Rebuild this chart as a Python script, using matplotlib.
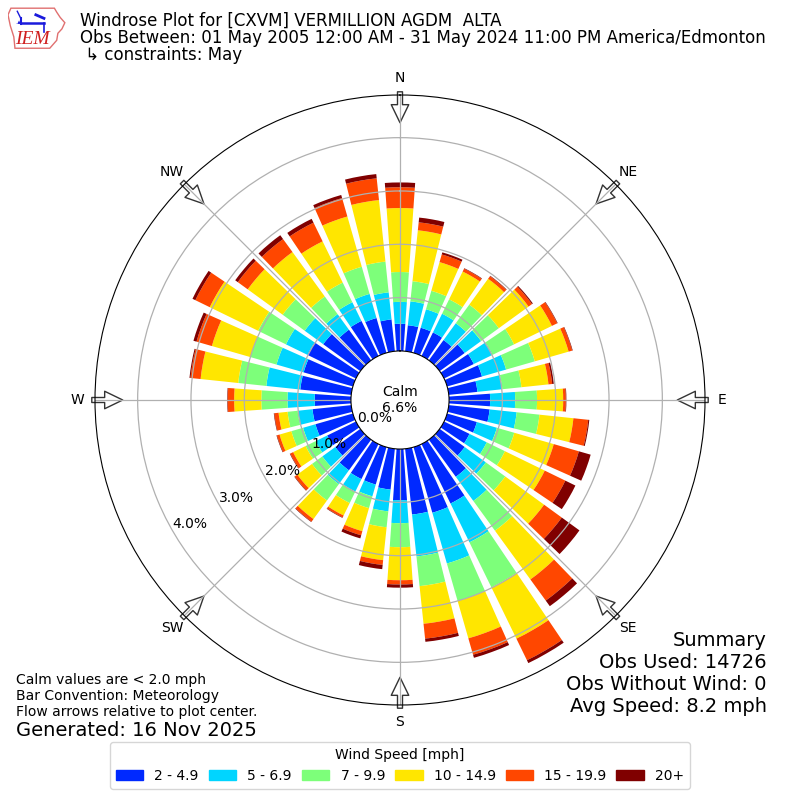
import numpy as np
import matplotlib
matplotlib.use("Agg")
import matplotlib.pyplot as plt
from matplotlib.patches import Rectangle, Polygon
from matplotlib.lines import Line2D

# ---------------- data (percent of observations) ----------------
directions = np.arange(0, 360, 10)
speed_bins = ["2 - 4.9", "5 - 6.9", "7 - 9.9", "10 - 14.9", "15 - 19.9", "20+"]

spd_2_5 = [0.51, 0.49, 0.49, 0.49, 0.47, 0.58, 0.62, 0.68, 0.54, 0.77, 0.77, 0.58,
           0.53, 0.58, 0.86, 1.24, 1.28, 1.24, 0.96, 0.77, 0.73, 0.73, 0.71, 0.58,
           0.60, 0.73, 0.73, 0.68, 0.96, 0.96, 1.01, 0.86, 0.71, 0.73, 0.68, 0.60]
spd_5_7 = [0.41, 0.45, 0.36, 0.39, 0.39, 0.38, 0.39, 0.47, 0.47, 0.47, 0.51, 0.39,
           0.36, 0.49, 0.56, 0.81, 0.99, 0.79, 0.43, 0.41, 0.23, 0.26, 0.32, 0.30,
           0.24, 0.24, 0.28, 0.51, 0.64, 0.53, 0.45, 0.43, 0.36, 0.39, 0.47, 0.51]
spd_7_10 = [0.56, 0.38, 0.36, 0.30, 0.43, 0.41, 0.45, 0.56, 0.36, 0.41, 0.43, 0.34,
            0.38, 0.45, 0.69, 0.94, 0.73, 0.56, 0.45, 0.30, 0.23, 0.24, 0.38, 0.24,
            0.21, 0.23, 0.19, 0.49, 0.53, 0.51, 0.58, 0.51, 0.41, 0.41, 0.53, 0.58]
spd_10_15 = [1.20, 0.96, 0.56, 0.58, 0.60, 0.69, 0.79, 0.66, 0.51, 0.49, 0.64, 0.77,
             0.83, 0.90, 1.13, 1.07, 0.73, 0.71, 0.62, 0.62, 0.45, 0.26, 0.43, 0.34,
             0.26, 0.23, 0.17, 0.51, 0.71, 0.75, 1.01, 0.81, 1.03, 0.86, 0.98, 1.16]
spd_15_20 = [0.39, 0.15, 0.15, 0.06, 0.06, 0.08, 0.11, 0.07, 0.07, 0.05, 0.28, 0.49,
             0.43, 0.41, 0.49, 0.45, 0.32, 0.28, 0.08, 0.09, 0.08, 0.04, 0.06, 0.06,
             0.06, 0.05, 0.08, 0.12, 0.19, 0.30, 0.30, 0.23, 0.30, 0.39, 0.36, 0.41]
spd_20p = [0.09, 0.09, 0.04, 0.01, 0.01, 0.02, 0.01, 0.01, 0.03, 0.01, 0.02, 0.23,
           0.21, 0.41, 0.13, 0.06, 0.06, 0.06, 0.06, 0.08, 0.06, 0.01, 0.01, 0.01,
           0.01, 0.01, 0.01, 0.01, 0.02, 0.06, 0.06, 0.06, 0.09, 0.08, 0.06, 0.08]
series = [spd_2_5, spd_5_7, spd_7_10, spd_10_15, spd_15_20, spd_20p]

calm_pct = 6.6
ring_values = [0, 1, 2, 3, 4]
compass_labels = ["N", "NE", "E", "SE", "S", "SW", "W", "NW"]
compass_deg = [0, 45, 90, 135, 180, 225, 270, 315]

# ---------------- figure ----------------
fig = plt.figure(figsize=(8, 8), dpi=100)
ax = fig.add_axes([0.11875, 0.11875, 0.7625, 0.7625], projection="polar")
ax.set_theta_zero_location("N")
ax.set_theta_direction(-1)

cmap = plt.get_cmap("jet")
colors = [cmap(v) for v in np.linspace(0, 1, 7)[1:]]

theta = np.deg2rad(directions)
width = np.deg2rad(8.0)
bottom = np.zeros(len(directions))
for vals, c, lab in zip(series, colors, speed_bins):
    vals = np.asarray(vals)
    ax.bar(theta, vals, width=width, bottom=bottom, color=c, label=lab,
           linewidth=0, align="center")
    bottom += vals

ax.set_rorigin(-0.92)
ax.set_ylim(0, 4.8)
ax.set_yticks(ring_values[1:])
ax.set_yticklabels([])
ax.set_xticks(np.deg2rad(compass_deg))
ax.set_xticklabels(compass_labels, fontsize=10)
ax.tick_params(axis="x", pad=2)
ax.grid(True, color="#b0b0b0", linewidth=0.9)

for rv in ring_values:
    ax.text(np.deg2rad(240), rv, f"{rv:.1f}%", ha="left", va="bottom",
            fontsize=10, zorder=6)

ax.text(0.5, 0.5, f"Calm\n{calm_pct:.1f}%", transform=ax.transAxes,
        ha="center", va="center", fontsize=10, zorder=6)

# flow arrows at the compass points
for d in compass_deg:
    th = np.deg2rad(d)
    ax.annotate("", xy=(th, 4.28), xytext=(th, 4.86), xycoords="data",
                textcoords="data", annotation_clip=False, zorder=1.2,
                arrowprops=dict(arrowstyle="simple,head_length=0.65,head_width=0.63,tail_width=0.18",
                                fc="white", ec="#333333", lw=1.0,
                                mutation_scale=20, shrinkA=0, shrinkB=0))

# ---------------- texts ----------------
fig.text(0.1, 1 - 26 / 800, "Windrose Plot for [CXVM] VERMILLION AGDM  ALTA",
         fontsize=12, va="baseline", ha="left")
fig.text(0.1, 1 - 43 / 800,
         "Obs Between: 01 May 2005 12:00 AM - 31 May 2024 11:00 PM America/Edmonton",
         fontsize=12, va="baseline", ha="left")
fig.text(0.1, 1 - 60 / 800, " \u21b3 constraints: May", fontsize=12,
         va="baseline", ha="left")

summary = ["Summary", "Obs Used: 14726", "Obs Without Wind: 0", "Avg Speed: 8.2 mph"]
for i, s in enumerate(summary):
    fig.text(767 / 800, 1 - (640 + 22 * i) / 800, s, fontsize=14,
             ha="right", va="center")

notes = ["Calm values are < 2.0 mph", "Bar Convention: Meteorology",
         "Flow arrows relative to plot center."]
for i, s in enumerate(notes):
    fig.text(16 / 800, 1 - (680 + 16 * i) / 800, s, fontsize=10,
             ha="left", va="center")
fig.text(16 / 800, 1 - 730 / 800, "Generated: 16 Nov 2025", fontsize=14,
         ha="left", va="center")

# legend
handles = [Rectangle((0, 0), 1, 1, color=c) for c in colors]
leg = fig.legend(handles, speed_bins, loc="center", bbox_to_anchor=(0.5, 1 - 765.5 / 800),
                 ncol=6, title="Wind Speed [mph]", fontsize=10, title_fontsize=10,
                 handlelength=2.0, handleheight=0.7, columnspacing=0.7,
                 frameon=True)

# ---------------- logo ----------------
lax = fig.add_axes([8 / 800, 1 - 50 / 800, 58 / 800, 44 / 800])
lax.set_xlim(0, 1)
lax.set_ylim(0, 1)
lax.axis("off")
iowa = [(0.05, 0.95), (0.80, 0.95), (0.84, 0.86), (0.90, 0.74), (0.98, 0.62),
        (0.93, 0.48), (0.86, 0.38), (0.84, 0.22), (0.76, 0.10), (0.72, 0.04),
        (0.12, 0.04), (0.10, 0.30), (0.04, 0.55), (0.0, 0.80)]
lax.add_patch(Polygon(iowa, closed=True, fill=False, ec="#e07070", lw=1.0))
lax.add_line(Line2D([0.22, 0.62], [0.62, 0.62], color="#1a1adc", lw=1.8))
lax.add_line(Line2D([0.22, 0.22], [0.58, 0.72], color="#1a1adc", lw=1.5))
lax.add_line(Line2D([0.16, 0.22], [0.88, 0.72], color="#1a1adc", lw=1.0))
lax.add_line(Line2D([0.48, 0.62], [0.80, 0.72], color="#1a1adc", lw=2.0))
lax.add_line(Line2D([0.62, 0.62], [0.62, 0.42], color="#1a1adc", lw=1.2))
lax.text(0.12, 0.58, ".\u25b4", color="#1a1adc", fontsize=5)
lax.text(0.42, 0.24, "IEM", color="#d02020", fontsize=14, family="Liberation Serif",
         style="italic", ha="center", va="center")

fig.savefig("out.png", dpi=100)
